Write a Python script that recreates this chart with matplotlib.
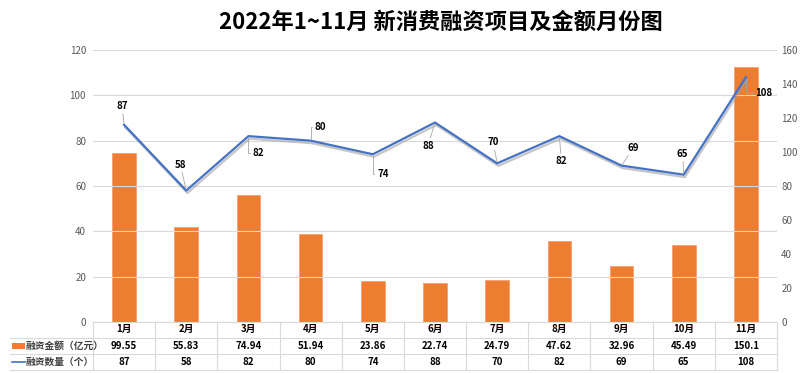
import matplotlib
matplotlib.use("Agg")
import matplotlib.pyplot as plt
import matplotlib.transforms as mtransforms
import matplotlib.patheffects as pe
from matplotlib.lines import Line2D
from matplotlib.patches import Rectangle

plt.rcParams['font.family'] = ['Noto Sans CJK SC', 'DejaVu Sans']

months = ['1月', '2月', '3月', '4月', '5月', '6月', '7月', '8月', '9月', '10月', '11月']
amount = [99.55, 55.83, 74.94, 51.94, 23.86, 22.74, 24.79, 47.62, 32.96, 45.49, 150.1]
amount_labels = ['99.55', '55.83', '74.94', '51.94', '23.86', '22.74', '24.79', '47.62', '32.96', '45.49', '150.1']
count = [87, 58, 82, 80, 74, 88, 70, 82, 69, 65, 108]
series_amount = '融资金额（亿元）'
series_count = '融资数量（个）'
title = '2022年1~11月 新消费融资项目及金额月份图'
left_ticks = [0, 20, 40, 60, 80, 100, 120]
right_ticks = [0, 20, 40, 60, 80, 100, 120, 140, 160]

# label offsets in pixels (dx right, dy down) from each line point
label_offsets = [(-2, -19), (-6, -26), (10, 17), (10, -14), (10, 20), (-7, 23),
                 (-4, -21), (2, 25), (12, -18), (-1, -21), (18, 16)]

W, H = 800, 373
fig = plt.figure(figsize=(W / 100, H / 100), dpi=100)
ax_l, ax_r, ax_b, ax_t = 93, 777, 322, 50
ax = fig.add_axes([ax_l / W, (H - ax_b) / H, (ax_r - ax_l) / W, (ax_b - ax_t) / H])
ax2 = ax.twinx()

x = list(range(len(months)))
orange = '#ED7D31'
blue = '#4472C4'
grid_c = '#D9D9D9'
tick_c = '#595959'

# bars on right axis
ax2.bar(x, amount, width=0.38, color=orange, edgecolor='#F4A070', linewidth=0.6, zorder=2)
ax2.set_ylim(0, 160)
ax2.set_yticks(right_ticks)

# line on left axis
ax.set_ylim(0, 120)
ax.set_yticks(left_ticks)
ax.set_xlim(-0.5, len(months) - 0.5)
ax.grid(axis='y', color=grid_c, linewidth=0.8)
ax.set_axisbelow(True)
ax.set_zorder(ax2.get_zorder() + 1)
ax.patch.set_visible(False)
ax2.patch.set_visible(True)
ax2.patch.set_facecolor('white')

ax.plot(x, count, color=blue, linewidth=1.6, zorder=4,
        path_effects=[pe.SimpleLineShadow(offset=(0.8, -1.8), shadow_color='#A0A0A0', alpha=0.6),
                      pe.Normal()])

for i, (v, (dx, dy)) in enumerate(zip(count, label_offsets)):
    if i in (2, 3, 4, 10):
        cs = 'angle,angleA=0,angleB=90,rad=0'
        rp = (0.0, 0.5)
    else:
        cs = 'arc3'
        rp = (0.5, 0.5)
    ax.annotate(str(v), xy=(i, v), xytext=(dx * 0.72, -dy * 0.72), textcoords='offset points',
                ha='center', va='center', fontsize=7, fontweight='bold', color='black',
                arrowprops=dict(arrowstyle='-', color='#A6A6A6', lw=0.6, shrinkA=0, shrinkB=1,
                                connectionstyle=cs, relpos=rp), zorder=5)

for a in (ax, ax2):
    for s in a.spines.values():
        s.set_visible(False)
    a.tick_params(axis='both', length=0, labelsize=7, labelcolor=tick_c)
ax.set_xticks([])
ax.tick_params(axis='y', pad=5)
ax2.tick_params(axis='y', pad=3)

# title
fig.text(441 / W, 1 - 22 / H, title, ha='center', va='center', fontsize=16, fontweight='bold', color='black')

# data table under the axes
tr = mtransforms.blended_transform_factory(ax.transData, ax.transAxes)
h = ax_b - ax_t
def yf(py):
    return (ax_b - py) / h
def xf(px):
    return (px - ax_l) / (ax_r - ax_l)

row_y = [329, 346, 362]
line_y = [338, 354, 370]
for i, m in enumerate(months):
    ax.text(i, yf(row_y[0]), m, transform=tr, ha='center', va='center', fontsize=7,
            fontweight='bold', color='black', clip_on=False)
    ax.text(i, yf(row_y[1]), amount_labels[i], transform=tr, ha='center', va='center', fontsize=7,
            fontweight='bold', color='black', clip_on=False)
    ax.text(i, yf(row_y[2]), str(count[i]), transform=tr, ha='center', va='center', fontsize=7,
            fontweight='bold', color='black', clip_on=False)

# horizontal table lines
ax.add_line(Line2D([xf(ax_l), xf(ax_r)], [0, 0], transform=ax.transAxes, color=grid_c, lw=0.8, clip_on=False))
for ly in line_y:
    ax.add_line(Line2D([xf(10), xf(ax_r)], [yf(ly), yf(ly)], transform=ax.transAxes,
                       color=grid_c, lw=0.8, clip_on=False))
# vertical table lines
for b in range(len(months) + 1):
    ax.add_line(Line2D([b - 0.5, b - 0.5], [0, yf(line_y[-1])], transform=tr,
                       color=grid_c, lw=0.8, clip_on=False))

# legend keys in table header column
ax.add_patch(Rectangle((xf(12), yf(row_y[1]) - 0.012), xf(25) - xf(12), 0.024, transform=ax.transAxes,
                       facecolor=orange, edgecolor='none', clip_on=False))
ax.add_line(Line2D([xf(12), xf(25)], [yf(row_y[2]), yf(row_y[2])], transform=ax.transAxes,
                   color=blue, lw=1.2, clip_on=False))
ax.text(xf(26), yf(row_y[1]), series_amount, transform=ax.transAxes, ha='left', va='center',
        fontsize=7, fontweight='bold', color='#404040', clip_on=False)
ax.text(xf(26), yf(row_y[2]), series_count, transform=ax.transAxes, ha='left', va='center',
        fontsize=7, fontweight='bold', color='#404040', clip_on=False)

fig.savefig('out.png', dpi=100, facecolor='white')
